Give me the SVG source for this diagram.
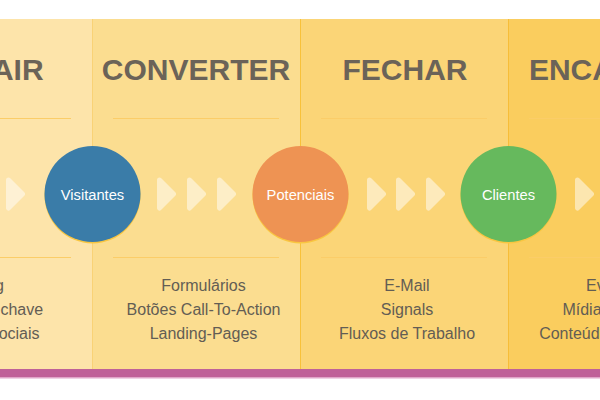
<svg xmlns="http://www.w3.org/2000/svg" width="600" height="400" viewBox="0 0 600 400">
<defs>
<style>
.title{font-family:"Liberation Sans",Arial,sans-serif;font-weight:bold;font-size:30px;fill:#6b6358;text-anchor:middle}
.item{font-family:"Liberation Sans",Arial,sans-serif;font-size:16px;fill:#635d54;text-anchor:middle}
.lbl{font-family:"Liberation Sans",Arial,sans-serif;font-size:14.7px;fill:#ffffff;text-anchor:middle}
.rule{stroke:#fbcd68;stroke-width:1}
.chev{fill:#ffffff;stroke:#ffffff;stroke-width:5;stroke-linejoin:round;opacity:0.5}
.glow{fill:#f9c640}
</style>
<polygon id="chev" points="8.5,180 22.5,194 8.5,208"/>
</defs>
<rect x="0" y="0" width="600" height="400" fill="#ffffff"/>
<g id="panels">
<rect x="-116" y="19" width="208" height="350" fill="#fde4aa"/>
<rect x="92" y="19" width="208" height="350" fill="#fbdd90"/>
<rect x="300" y="19" width="208" height="350" fill="#fbd577"/>
<rect x="508" y="19" width="208" height="350" fill="#facd5e"/>
<line x1="92.5" y1="19" x2="92.5" y2="369" stroke="#f9d276" stroke-width="1"/>
<line x1="300.5" y1="19" x2="300.5" y2="369" stroke="#f8c13a" stroke-width="1"/>
<line x1="508.5" y1="19" x2="508.5" y2="369" stroke="#f7bd38" stroke-width="1"/>
<rect x="0" y="369" width="600" height="8" fill="#bf6198"/>
<rect x="0" y="377" width="600" height="1.5" fill="#e0a6c8"/>
</g>
<g id="stage-atrair">
<text class="title" x="-12" y="80">ATRAIR</text>
<line class="rule" x1="-95" y1="118.5" x2="71" y2="118.5"/>
<line class="rule" x1="-95" y1="257.5" x2="71" y2="257.5"/>
<text class="item" x="-12" y="291">Blog</text>
<text class="item" x="-12" y="315">Palavras-chave</text>
<text class="item" x="-12" y="339">Mídias Sociais</text>
</g>
<g id="stage-converter">
<text class="title" x="196" y="80">CONVERTER</text>
<line class="rule" x1="113" y1="118.5" x2="279" y2="118.5"/>
<line class="rule" x1="113" y1="257.5" x2="279" y2="257.5"/>
<text class="item" x="203.5" y="291">Formulários</text>
<text class="item" x="203.5" y="315">Botões Call-To-Action</text>
<text class="item" x="203.5" y="339">Landing-Pages</text>
</g>
<g id="stage-fechar">
<text class="title" x="405" y="80">FECHAR</text>
<line class="rule" x1="321" y1="118.5" x2="487" y2="118.5"/>
<line class="rule" x1="321" y1="257.5" x2="487" y2="257.5"/>
<text class="item" x="407" y="291">E-Mail</text>
<text class="item" x="407" y="315">Signals</text>
<text class="item" x="407" y="339">Fluxos de Trabalho</text>
</g>
<g id="stage-encantar">
<text class="title" x="612" y="80">ENCANTAR</text>
<line class="rule" x1="529" y1="118.5" x2="695" y2="118.5"/>
<line class="rule" x1="529" y1="257.5" x2="695" y2="257.5"/>
<text class="item" x="615" y="291">Eventos</text>
<text class="item" x="614" y="315">Mídias Sociais</text>
<text class="item" x="613" y="339">Conteúdo Inteligente</text>
</g>
<g id="connectors">
<use href="#chev" class="chev" x="0"/>
<use href="#chev" class="chev" x="151"/>
<use href="#chev" class="chev" x="181"/>
<use href="#chev" class="chev" x="211"/>
<use href="#chev" class="chev" x="361"/>
<use href="#chev" class="chev" x="390"/>
<use href="#chev" class="chev" x="420"/>
<use href="#chev" class="chev" x="569"/>
</g>
<g id="node-visitantes">
<circle class="glow" cx="92.5" cy="195.5" r="48"/>
<circle cx="92.5" cy="194" r="48" fill="#3a7ca8"/>
<text class="lbl" x="92.5" y="200">Visitantes</text>
</g>
<g id="node-potenciais">
<circle class="glow" cx="300.5" cy="195.5" r="48"/>
<circle cx="300.5" cy="194" r="48" fill="#ee9353"/>
<text class="lbl" x="300.5" y="200">Potenciais</text>
</g>
<g id="node-clientes">
<circle class="glow" cx="508.5" cy="195.5" r="48"/>
<circle cx="508.5" cy="194" r="48" fill="#66b95d"/>
<text class="lbl" x="508.5" y="200">Clientes</text>
</g>
</svg>
